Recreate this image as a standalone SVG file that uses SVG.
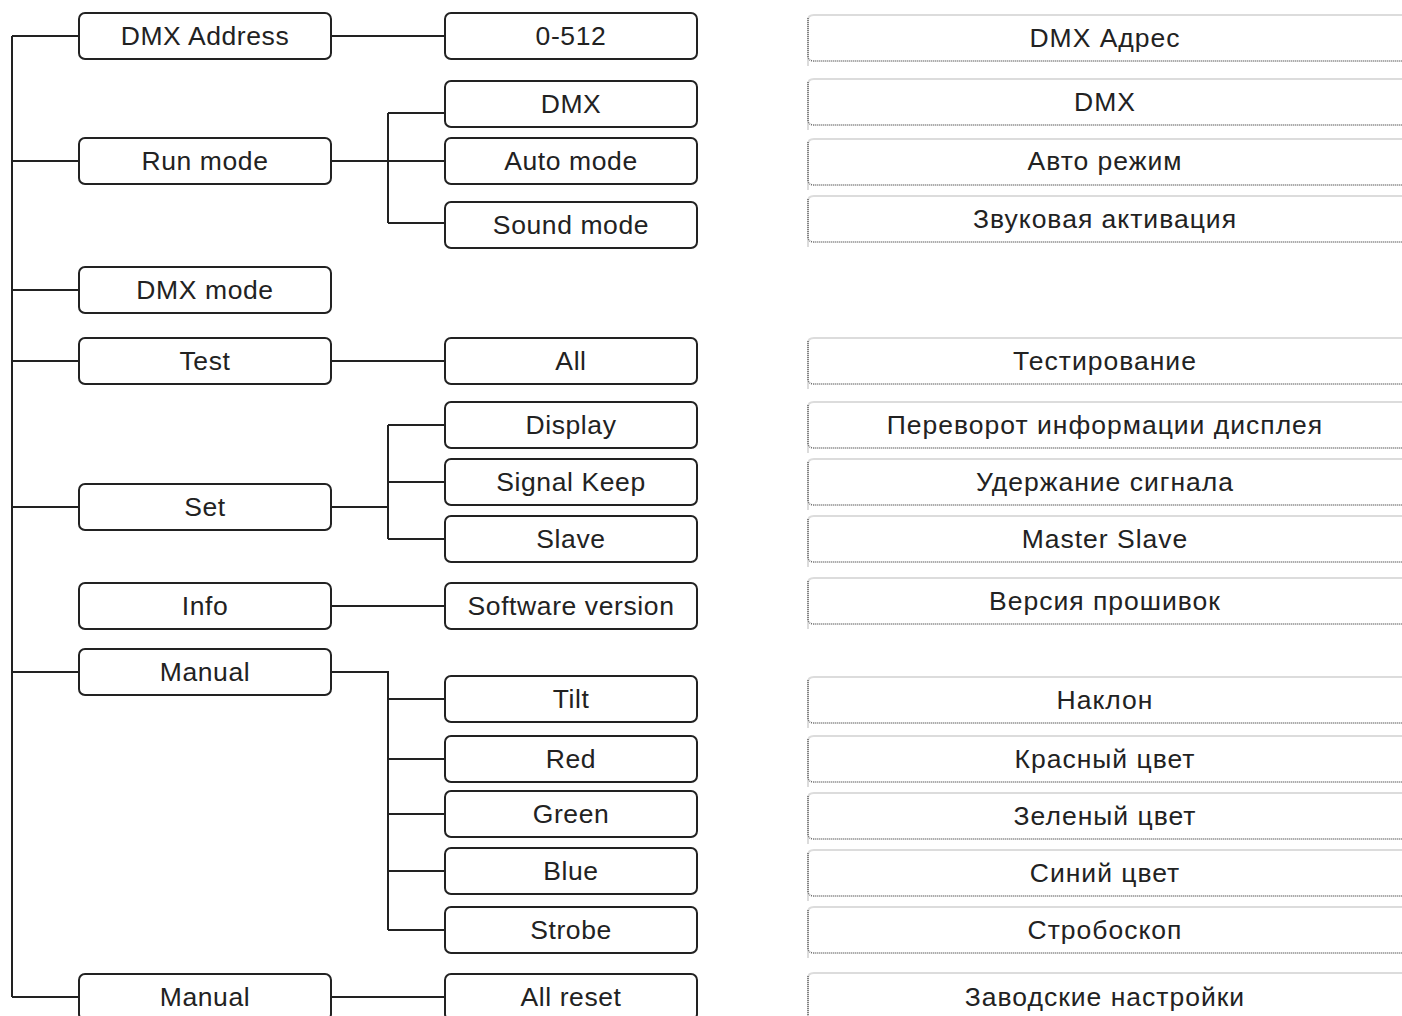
<svg xmlns="http://www.w3.org/2000/svg" width="1402" height="1016" viewBox="0 0 1402 1016">
<style>
.b{fill:#fff;stroke:#222;stroke-width:2}
.t{font-family:"Liberation Sans",Arial,sans-serif;font-size:26.5px;fill:#222;text-anchor:middle;letter-spacing:0.6px}
.r{letter-spacing:1px}
.c{fill:none;stroke:#222;stroke-width:2}
.rt{fill:none;stroke:#dcdcdc;stroke-width:2}
.rd{fill:none;stroke:#666;stroke-width:1.5;stroke-dasharray:1 1}
</style>
<defs>
<g id="rb">
<path class="rt" d="M808,52 L808,6 Q808,1 814,1 L1402,1"/>
<path class="rd" d="M808,4 L808,42 Q808,47 814,47 L1402,47"/>
</g>
</defs>
<rect width="1402" height="1016" fill="#fff"/>
<g id="connectors">
<path class="c" d="M12,36 V997"/>
<path class="c" d="M12,36 H79 M12,161 H79 M12,290 H79 M12,361 H79 M12,507 H79 M12,672 H79 M12,997 H79"/>
<path class="c" d="M331,36 H445"/>
<path class="c" d="M331,161 H388 M388,113 V223 M388,113 H445 M388,161 H445 M388,223 H445" stroke="#444"/>
<path class="c" d="M331,361 H445"/>
<path class="c" d="M331,507 H388 M388,425 V539 M388,425 H445 M388,482 H445 M388,539 H445"/>
<path class="c" d="M331,606 H445"/>
<path class="c" d="M331,672 H388 V930 M388,699 H445 M388,759 H445 M388,814 H445 M388,871 H445 M388,930 H445"/>
<path class="c" d="M331,997 H445"/>
</g>
<g id="n-dmx-address"><rect class="b" x="79" y="13" width="252" height="46" rx="6"/><text class="t" x="205" y="45">DMX Address</text></g>
<g id="n-run-mode"><rect class="b" x="79" y="138" width="252" height="46" rx="6"/><text class="t" x="205" y="170">Run mode</text></g>
<g id="n-dmx-mode"><rect class="b" x="79" y="267" width="252" height="46" rx="6"/><text class="t" x="205" y="299">DMX mode</text></g>
<g id="n-test"><rect class="b" x="79" y="338" width="252" height="46" rx="6"/><text class="t" x="205" y="370">Test</text></g>
<g id="n-set"><rect class="b" x="79" y="484" width="252" height="46" rx="6"/><text class="t" x="205" y="516">Set</text></g>
<g id="n-info"><rect class="b" x="79" y="583" width="252" height="46" rx="6"/><text class="t" x="205" y="615">Info</text></g>
<g id="n-manual1"><rect class="b" x="79" y="649" width="252" height="46" rx="6"/><text class="t" x="205" y="681">Manual</text></g>
<g id="n-manual2"><rect class="b" x="79" y="974" width="252" height="46" rx="6"/><text class="t" x="205" y="1006">Manual</text></g>

<g id="n-0-512"><rect class="b" x="445" y="13" width="252" height="46" rx="6"/><text class="t" x="571" y="45">0-512</text></g>
<g id="n-dmx"><rect class="b" x="445" y="81" width="252" height="46" rx="6"/><text class="t" x="571" y="113">DMX</text></g>
<g id="n-auto"><rect class="b" x="445" y="138" width="252" height="46" rx="6"/><text class="t" x="571" y="170">Auto mode</text></g>
<g id="n-sound"><rect class="b" x="445" y="202" width="252" height="46" rx="6"/><text class="t" x="571" y="234">Sound mode</text></g>
<g id="n-all"><rect class="b" x="445" y="338" width="252" height="46" rx="6"/><text class="t" x="571" y="370">All</text></g>
<g id="n-display"><rect class="b" x="445" y="402" width="252" height="46" rx="6"/><text class="t" x="571" y="434">Display</text></g>
<g id="n-signal"><rect class="b" x="445" y="459" width="252" height="46" rx="6"/><text class="t" x="571" y="491">Signal Keep</text></g>
<g id="n-slave"><rect class="b" x="445" y="516" width="252" height="46" rx="6"/><text class="t" x="571" y="548">Slave</text></g>
<g id="n-software"><rect class="b" x="445" y="583" width="252" height="46" rx="6"/><text class="t" x="571" y="615">Software version</text></g>
<g id="n-tilt"><rect class="b" x="445" y="676" width="252" height="46" rx="6"/><text class="t" x="571" y="708">Tilt</text></g>
<g id="n-red"><rect class="b" x="445" y="736" width="252" height="46" rx="6"/><text class="t" x="571" y="768">Red</text></g>
<g id="n-green"><rect class="b" x="445" y="791" width="252" height="46" rx="6"/><text class="t" x="571" y="823">Green</text></g>
<g id="n-blue"><rect class="b" x="445" y="848" width="252" height="46" rx="6"/><text class="t" x="571" y="880">Blue</text></g>
<g id="n-strobe"><rect class="b" x="445" y="907" width="252" height="46" rx="6"/><text class="t" x="571" y="939">Strobe</text></g>
<g id="n-allreset"><rect class="b" x="445" y="974" width="252" height="46" rx="6"/><text class="t" x="571" y="1006">All reset</text></g>

<g id="r-1"><use href="#rb" y="14"/><text class="t r" x="1105" y="47">DMX Адрес</text></g>
<g id="r-2"><use href="#rb" y="78"/><text class="t r" x="1105" y="111">DMX</text></g>
<g id="r-3"><use href="#rb" y="138"/><text class="t r" x="1105" y="170">Авто режим</text></g>
<g id="r-4"><use href="#rb" y="195"/><text class="t r" x="1105" y="228">Звуковая активация</text></g>
<g id="r-5"><use href="#rb" y="337"/><text class="t r" x="1105" y="370">Тестирование</text></g>
<g id="r-6"><use href="#rb" y="401"/><text class="t r" x="1105" y="434">Переворот информации дисплея</text></g>
<g id="r-7"><use href="#rb" y="458"/><text class="t r" x="1105" y="491">Удержание сигнала</text></g>
<g id="r-8"><use href="#rb" y="515"/><text class="t r" x="1105" y="548">Master Slave</text></g>
<g id="r-9"><use href="#rb" y="577"/><text class="t r" x="1105" y="610">Версия прошивок</text></g>
<g id="r-10"><use href="#rb" y="676"/><text class="t r" x="1105" y="709">Наклон</text></g>
<g id="r-11"><use href="#rb" y="735"/><text class="t r" x="1105" y="768">Красный цвет</text></g>
<g id="r-12"><use href="#rb" y="792"/><text class="t r" x="1105" y="825">Зеленый цвет</text></g>
<g id="r-13"><use href="#rb" y="849"/><text class="t r" x="1105" y="882">Синий цвет</text></g>
<g id="r-14"><use href="#rb" y="906"/><text class="t r" x="1105" y="939">Стробоскоп</text></g>
<g id="r-15"><use href="#rb" y="972"/><text class="t r" x="1105" y="1006">Заводские настройки</text></g>
</svg>
